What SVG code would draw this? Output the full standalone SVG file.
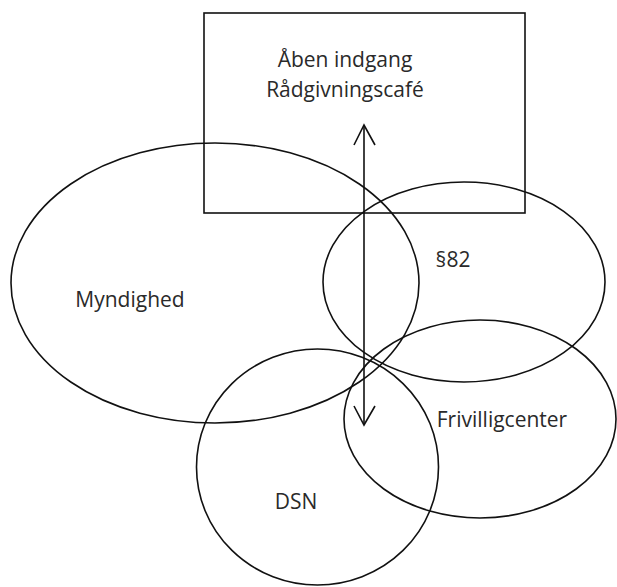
<svg xmlns="http://www.w3.org/2000/svg" width="617" height="587" viewBox="0 0 617 587">
<style>
.shape{fill:none;stroke:#111;stroke-width:1.6}
.lbl{font-family:"Open Sans","Noto Sans",sans-serif;font-size:21px;fill:#2a2a2a;text-anchor:middle}
.conn{fill:none;stroke:#111;stroke-width:1.6}
</style>
<rect width="617" height="587" fill="#fff"/>
<g id="node-aaben">
<rect class="shape" x="204" y="13" width="321" height="200"/>
<text class="lbl" x="345" y="67">Åben indgang</text>
<text class="lbl" x="345" y="97">Rådgivningscafé</text>
</g>
<g id="node-myndighed">
<ellipse class="shape" cx="215" cy="283" rx="204" ry="140"/>
<text class="lbl" x="130" y="307">Myndighed</text>
</g>
<g id="node-82">
<ellipse class="shape" cx="464" cy="282" rx="141" ry="100"/>
<text class="lbl" x="453" y="267">§82</text>
</g>
<g id="node-frivilligcenter">
<ellipse class="shape" cx="480" cy="419" rx="136" ry="99"/>
<text class="lbl" x="502" y="427">Frivilligcenter</text>
</g>
<g id="node-dsn">
<ellipse class="shape" cx="317.5" cy="467" rx="121" ry="118"/>
<text class="lbl" x="296" y="509">DSN</text>
</g>
<g id="connectors">
<line class="conn" x1="364" y1="125" x2="364" y2="425"/>
<polyline class="conn" points="354,145 364,125 375,145"/>
<polyline class="conn" points="354,406 364,425 375,406"/>
</g>
</svg>
